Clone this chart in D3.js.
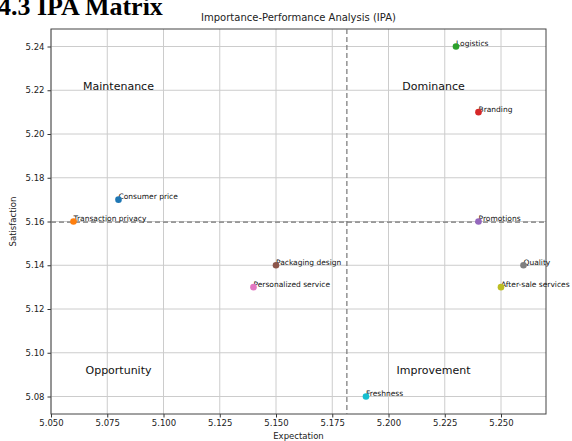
<!DOCTYPE html>
<html>
<head>
<meta charset="utf-8">
<script src="https://cdn.jsdelivr.net/npm/d3@7"></script>
<style>
  body { margin: 0; background: #fff; }
  svg { display: block; }
</style>
</head>
<body>
<div id="chart"></div>
<script>
// attributes, in plotting order (matplotlib tab10 colour cycle)
const names = ['Consumer price', 'Transaction privacy', 'Logistics', 'Branding', 'Promotions',
  'Packaging design', 'Personalized service', 'Quality', 'After-sale services', 'Freshness'];
const expectation = [5.08, 5.06, 5.23, 5.24, 5.24, 5.15, 5.14, 5.26, 5.25, 5.19];
const satisfaction = [5.17, 5.16, 5.24, 5.21, 5.16, 5.14, 5.13, 5.14, 5.13, 5.08];
const colors = ['#1f77b4', '#ff7f0e', '#2ca02c', '#d62728', '#9467bd',
  '#8c564b', '#e377c2', '#7f7f7f', '#bcbd22', '#17becf'];

const xTicks = [5.050, 5.075, 5.100, 5.125, 5.150, 5.175, 5.200, 5.225, 5.250];
const yTicks = [5.08, 5.10, 5.12, 5.14, 5.16, 5.18, 5.20, 5.22, 5.24];
const xMean = 5.1815;
const yMean = 5.1597;

const quadrants = [
  { label: 'Maintenance', x: 5.08, y: 5.222 },
  { label: 'Dominance', x: 5.22, y: 5.222 },
  { label: 'Opportunity', x: 5.08, y: 5.092 },
  { label: 'Improvement', x: 5.22, y: 5.092 }
];

const width = 572, height = 441;
const margin = { top: 29, right: 26, bottom: 27, left: 51 };

const svg = d3.select('#chart').append('svg')
  .attr('width', width)
  .attr('height', height)
  .style('font-family', 'DejaVu Sans, sans-serif');

const x = d3.scaleLinear().domain([5.05, 5.27]).range([margin.left, width - margin.right]);
const y = d3.scaleLinear().domain([5.072, 5.248]).range([height - margin.bottom, margin.top]);

// section heading, cut off at the top of the page
svg.append('text')
  .attr('x', -2)
  .attr('y', 15)
  .style('font-family', 'Liberation Serif, serif')
  .style('font-weight', 'bold')
  .style('font-size', '26px')
  .text('4.3 IPA Matrix');

// grid
svg.append('g')
  .selectAll('line')
  .data(xTicks)
  .join('line')
  .attr('x1', d => x(d)).attr('x2', d => x(d))
  .attr('y1', margin.top).attr('y2', height - margin.bottom)
  .attr('stroke', '#cccccc').attr('stroke-width', 1);

svg.append('g')
  .selectAll('line')
  .data(yTicks)
  .join('line')
  .attr('y1', d => y(d)).attr('y2', d => y(d))
  .attr('x1', margin.left).attr('x2', width - margin.right)
  .attr('stroke', '#cccccc').attr('stroke-width', 1);

// axes
const xAxis = svg.append('g')
  .attr('transform', `translate(0,${height - margin.bottom})`)
  .call(d3.axisBottom(x).tickValues(xTicks).tickFormat(d3.format('.3f')).tickSize(3.5).tickPadding(2));

const yAxis = svg.append('g')
  .attr('transform', `translate(${margin.left},0)`)
  .call(d3.axisLeft(y).tickValues(yTicks).tickFormat(d3.format('.2f')).tickSize(3.5).tickPadding(3));

[xAxis, yAxis].forEach(a => {
  a.select('.domain').remove();
  a.selectAll('text').style('font-family', 'DejaVu Sans, sans-serif').style('font-size', '8.5px').attr('fill', '#222');
  a.selectAll('line').attr('stroke', '#333');
});

// frame
svg.append('rect')
  .attr('x', margin.left).attr('y', margin.top)
  .attr('width', width - margin.left - margin.right)
  .attr('height', height - margin.top - margin.bottom)
  .attr('fill', 'none').attr('stroke', '#444').attr('stroke-width', 1);

// mean lines
svg.append('line')
  .attr('x1', x(xMean)).attr('x2', x(xMean))
  .attr('y1', margin.top).attr('y2', height - margin.bottom)
  .attr('stroke', '#777').attr('stroke-width', 1.2).attr('stroke-dasharray', '5,3');

svg.append('line')
  .attr('y1', y(yMean)).attr('y2', y(yMean))
  .attr('x1', margin.left).attr('x2', width - margin.right)
  .attr('stroke', '#777').attr('stroke-width', 1.2).attr('stroke-dasharray', '5,3');

// quadrant names
svg.append('g')
  .selectAll('text')
  .data(quadrants)
  .join('text')
  .attr('x', d => x(d.x))
  .attr('y', d => y(d.y))
  .attr('dy', '0.35em')
  .attr('text-anchor', 'middle')
  .style('font-size', '11px')
  .attr('fill', '#111')
  .text(d => d.label);

// point labels first, markers drawn on top
const idx = d3.range(names.length);
svg.append('g')
  .selectAll('text')
  .data(idx)
  .join('text')
  .attr('x', i => x(expectation[i]))
  .attr('y', i => y(satisfaction[i]) - 0.5)
  .style('font-size', '7.5px')
  .attr('fill', '#111')
  .text(i => names[i]);

svg.append('g')
  .selectAll('circle')
  .data(idx)
  .join('circle')
  .attr('cx', i => x(expectation[i]))
  .attr('cy', i => y(satisfaction[i]))
  .attr('r', 3.3)
  .attr('fill', i => colors[i]);

// titles
svg.append('text')
  .attr('x', (margin.left + width - margin.right) / 2)
  .attr('y', 21)
  .attr('text-anchor', 'middle')
  .style('font-size', '10px')
  .attr('fill', '#222')
  .text('Importance-Performance Analysis (IPA)');

svg.append('text')
  .attr('x', (margin.left + width - margin.right) / 2)
  .attr('y', 439)
  .attr('text-anchor', 'middle')
  .style('font-size', '8.5px')
  .attr('fill', '#222')
  .text('Expectation');

svg.append('text')
  .attr('transform', `translate(16,${(margin.top + height - margin.bottom) / 2}) rotate(-90)`)
  .attr('text-anchor', 'middle')
  .style('font-size', '8.5px')
  .attr('fill', '#222')
  .text('Satisfaction');
</script>
</body>
</html>
